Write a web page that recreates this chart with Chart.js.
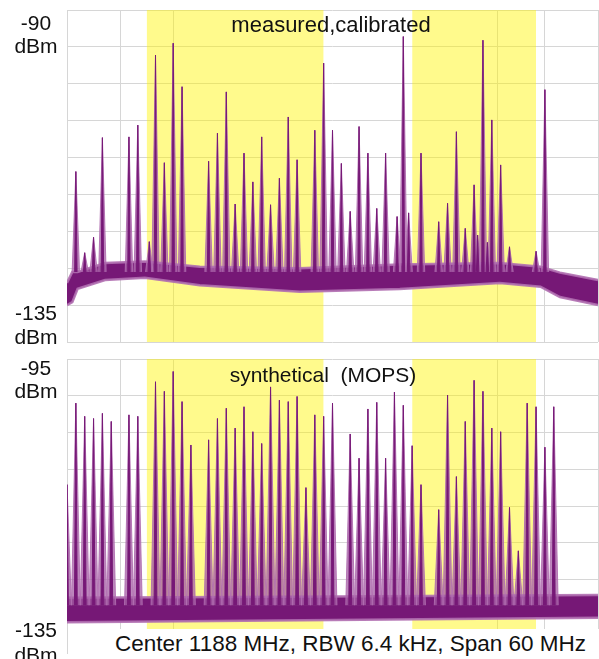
<!DOCTYPE html>
<html>
<head>
<meta charset="utf-8">
<script src="https://cdn.jsdelivr.net/npm/chart.js@4.4.1/dist/chart.umd.min.js"></script>
<style>
  body { margin:0; background:#fff; width:599px; height:659px; overflow:hidden; position:relative;
         font-family:"Liberation Sans", Arial, sans-serif; color:#111; }
  canvas { position:absolute; left:0; }
  #topChart { top:0; }
  #botChart { top:349px; }
  .lab { position:absolute; left:6px; width:60px; text-align:center; font-size:21px; line-height:22px; }
  .title { position:absolute; text-align:center; width:400px; white-space:pre; }
  #caption { position:absolute; left:68px; top:629px; width:531px; height:30px; background:#fff;
             font-size:22.5px; line-height:24px; padding-left:47px; box-sizing:border-box; padding-top:3px; white-space:nowrap; }
</style>
</head>
<body>
<canvas id="topChart" width="599" height="345"></canvas>
<canvas id="botChart" width="599" height="310"></canvas>

<div class="lab" style="top:12px">-90</div>
<div class="lab" style="top:35px">dBm</div>
<div class="lab" style="top:302px">-135</div>
<div class="lab" style="top:326px">dBm</div>
<div class="lab" style="top:357px">-95</div>
<div class="lab" style="top:380px">dBm</div>
<div class="lab" style="top:619px">-135</div>
<div class="lab" style="top:644px">dBm</div>

<div class="title" style="left:131px; top:14px; font-size:22px; line-height:22px">measured,calibrated</div>
<div class="title" style="left:123px; top:364px; font-size:21px; line-height:21px">synthetical  (MOPS)</div>
<div id="caption">Center 1188 MHz, RBW 6.4 kHz, Span 60 MHz</div>

<script>
// frequency span (MHz) and vertical grid positions
var spanMin = 1158, spanMax = 1218;
var gridMHz = [1158, 1164, 1170, 1206.6, 1212, 1218];

// yellow frequency blocks
var bandStart = [1167, 1197];
var bandEnd   = [1187, 1211];

// measured spectrum: carrier frequency (MHz) and peak level (dBm)
var measFreq = [1159, 1160, 1161, 1162, 1165, 1166, 1167.3, 1168, 1169, 1170, 1171, 1174, 1175, 1176,
                1177, 1178, 1179, 1180, 1181, 1182, 1183, 1184, 1186, 1187, 1188, 1189, 1190, 1191,
                1192, 1193, 1194, 1195.3, 1196, 1196.6, 1198, 1200, 1201, 1202, 1203, 1204, 1204.4,
                1205, 1205.5, 1206, 1207, 1208, 1211, 1212];
var measLevel = [-111.9, -122.9, -120.8, -107.3, -107.2, -105.6, -121.4, -96.1, -110.7, -94.5, -100.4, -110.5, -106.7, -101.1,
                 -116.3, -109.4, -113.3, -107.2, -116.4, -112.8, -104.5, -110.3, -106.3, -97.2, -106.3, -110.8, -117.3, -105.8,
                 -109.4, -116.9, -109.4, -118.0, -93.6, -117.5, -109.4, -118.7, -116.2, -106.5, -119.6, -113.7, -120.5,
                 -94.1, -121.5, -104.9, -111.0, -122.1, -122.7, -100.8];

// measured noise floor (upper / lower edge)
var measFloorFreq = [1158, 1158.6, 1159.2, 1162.3, 1166.8, 1173, 1184.3, 1195.6, 1206.9, 1211.5, 1213.7, 1218];
var measFloorHi   = [-127.0, -125.5, -125.5, -124.3, -124.1, -124.8, -125.0, -124.5, -124.3, -124.8, -125.6, -126.6];
var measFloorLo   = [-130.0, -129.6, -127.8, -126.6, -126.3, -127.3, -128.2, -127.8, -127.0, -127.5, -128.9, -130.0];

// synthetical (MOPS) spectrum
var synFreq = [1158, 1159, 1160, 1161, 1162, 1163, 1165, 1166, 1168, 1169, 1170, 1171, 1172, 1174, 1175,
               1176, 1177, 1178, 1179, 1180, 1181, 1182, 1183, 1184, 1185, 1186, 1187, 1188, 1190, 1191,
               1192, 1193, 1194, 1195, 1196, 1197, 1198, 1200, 1201, 1202, 1203, 1204, 1205, 1206, 1207,
               1208, 1209, 1210, 1211, 1212, 1213];
var synLevel = [-112.1, -101.0, -102.8, -103.1, -102.4, -103.5, -102.6, -102.8, -98.1, -99.4, -96.7, -100.8, -106.7, -106.0, -103.1,
                -101.7, -104.4, -101.5, -104.9, -106.5, -98.8, -100.6, -100.8, -100.1, -112.5, -102.6, -102.8, -101.0, -105.2, -108.5,
                -101.8, -100.9, -108.5, -99.5, -101.3, -106.8, -112.1, -115.5, -99.9, -111.0, -103.5, -97.9, -99.4, -104.4, -104.9,
                -115.2, -121.1, -101.0, -101.5, -107.0, -101.5];

var synFloorFreq = [1158, 1188, 1218];
var synFloorHi   = [-127.5, -127.3, -127.1];
var synFloorLo   = [-130.8, -130.5, -130.2];

var dark = 'rgb(118,24,118)';
var light = 'rgba(176,110,176,0.9)';
var skirt = 'rgba(165,95,165,0.75)';
var yellow = 'rgba(255,245,0,0.45)';
var gridCol = '#d6d6d6';

function pts(xs, ys) {
  return xs.map(function (x, i) { return { x: x, y: ys[i] }; });
}

// each carrier as a narrow spike standing on the noise floor
function spikes(freqs, levels, base, halfWidth) {
  var out = [];
  freqs.forEach(function (f, i) {
    out.push({ x: f - halfWidth, y: base });
    out.push({ x: f, y: levels[i] });
    out.push({ x: f + halfWidth, y: base });
    out.push({ x: f + halfWidth, y: null });
  });
  return out;
}

function makeChart(id, yMin, yMax, pad, floorFreq, floorHi, floorLo, freqs, levels, base, skirtW, coreW) {
  var sets = [];
  bandStart.forEach(function (s, i) {
    sets.push({ data: [{ x: s, y: yMax }, { x: bandEnd[i], y: yMax }], fill: 'start',
                backgroundColor: yellow, borderWidth: 0, pointRadius: 0, order: 5 });
  });
  sets.push({ data: pts(floorFreq, floorHi), fill: false, borderColor: light, borderWidth: 2.5,
              pointRadius: 0, order: 3 });
  sets.push({ data: pts(floorFreq, floorLo), fill: '-1', backgroundColor: dark, borderColor: light,
              borderWidth: 2.5, pointRadius: 0, order: 3 });
  // light outer skirt, then dark core on top
  sets.push({ data: spikes(freqs, levels, base, skirtW), fill: { value: base }, spanGaps: false,
              backgroundColor: skirt, borderColor: light, borderWidth: 1, pointRadius: 0, order: 2 });
  sets.push({ data: spikes(freqs, levels, base, coreW), fill: { value: base }, spanGaps: false,
              backgroundColor: dark, borderColor: dark, borderWidth: 1, pointRadius: 0, order: 1 });

  return new Chart(document.getElementById(id), {
    type: 'line',
    data: { datasets: sets },
    options: {
      responsive: false,
      animation: false,
      layout: { padding: pad },
      plugins: { legend: { display: false }, tooltip: { enabled: false } },
      scales: {
        x: {
          type: 'linear', min: spanMin, max: spanMax,
          afterBuildTicks: function (ax) { ax.ticks = gridMHz.map(function (v) { return { value: v }; }); },
          ticks: { display: false },
          grid: { color: gridCol, drawTicks: false },
          border: { display: false }
        },
        y: {
          min: yMin, max: yMax,
          ticks: { display: false, stepSize: 5 },
          grid: { color: gridCol, drawTicks: false },
          border: { display: false }
        }
      }
    }
  });
}

makeChart('topChart', -135, -90, { left: 67, right: 1, top: 10, bottom: 3 },
          measFloorFreq, measFloorHi, measFloorLo, measFreq, measLevel, -125.5, 0.42, 0.14);
makeChart('botChart', -135, -95, { left: 67, right: 1, top: 10, bottom: 6 },
          synFloorFreq, synFloorHi, synFloorLo, synFreq, synLevel, -128.5, 0.5, 0.16);
</script>
</body>
</html>
